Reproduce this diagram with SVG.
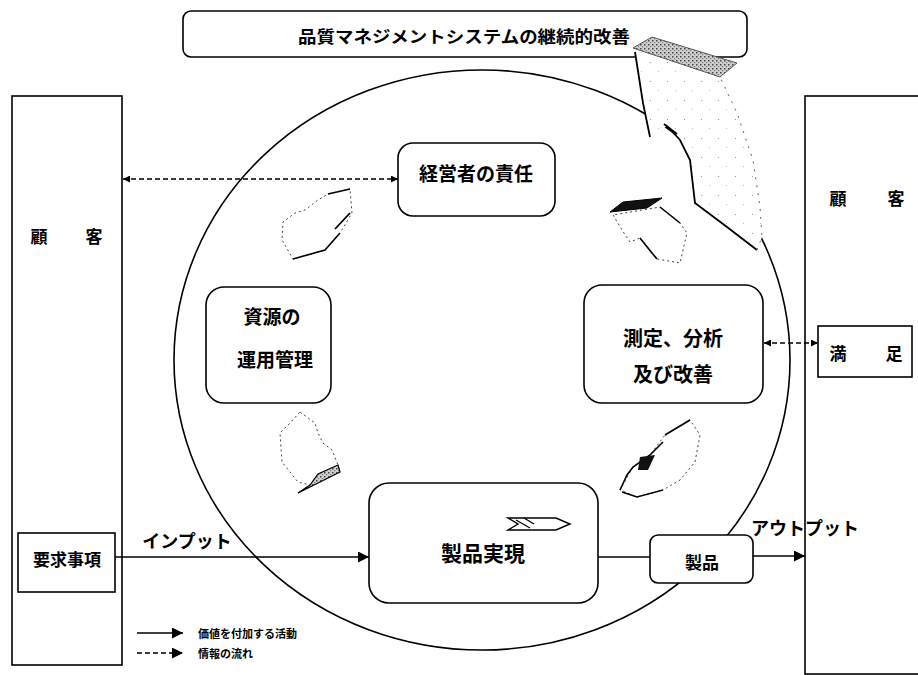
<svg xmlns="http://www.w3.org/2000/svg" width="918" height="675" viewBox="0 0 918 675">
<style>
  .box { fill: #fff; stroke: #000; stroke-width: 1.6; }
  .lbl { font-family: "Noto Sans CJK JP", "Noto Sans", sans-serif; font-weight: bold; fill: #000; text-anchor: middle; dominant-baseline: central; }
  .line { stroke: #000; stroke-width: 1.6; fill: none; }
  .dash { stroke: #000; stroke-width: 1.4; fill: none; stroke-dasharray: 5 3; }
  .faint { stroke: #444; stroke-width: 1; fill: #fff; stroke-dasharray: 2 3; }
  .dark { stroke: #000; stroke-width: 1.8; fill: none; }
</style>
<defs>
  <marker id="arr" viewBox="0 0 10 10" refX="10" refY="5" markerWidth="7" markerHeight="7" markerUnits="userSpaceOnUse" orient="auto-start-reverse">
    <path d="M0,0 L10,5 L0,10 Z" fill="#000"/>
  </marker>
  <marker id="arrL" viewBox="0 0 10 10" refX="10" refY="5" markerWidth="12" markerHeight="11" markerUnits="userSpaceOnUse" orient="auto-start-reverse">
    <path d="M0,0 L10,5 L0,10 Z" fill="#000"/>
  </marker>
  <pattern id="stip" width="4" height="4" patternUnits="userSpaceOnUse">
    <rect width="4" height="4" fill="#cfcfcf"/>
    <rect x="0" y="0" width="1.5" height="1.5" fill="#444"/>
    <rect x="2" y="2" width="1.2" height="1.2" fill="#777"/>
  </pattern>
  <pattern id="sparse" width="17" height="19" patternUnits="userSpaceOnUse">
    <rect width="17" height="19" fill="#fff"/>
    <rect x="4" y="5" width="1" height="1" fill="#999"/>
    <rect x="12" y="14" width="1" height="1" fill="#bbb"/>
  </pattern>
</defs>

<rect width="918" height="675" fill="#fff"/>

<!-- main circle -->
<g id="cycle-circle">
  <ellipse cx="482" cy="360" rx="308" ry="290" fill="none" stroke="#000" stroke-width="1.6"/>
</g>

<!-- customer panels -->
<g id="customer-left">
  <rect x="12" y="96" width="110" height="569" fill="none" stroke="#000" stroke-width="1.6"/>
  <text class="lbl" x="39" y="235" font-size="17">顧</text>
  <text class="lbl" x="94" y="235" font-size="17">客</text>
</g>
<g id="customer-right">
  <rect x="805" y="96" width="130" height="578" fill="none" stroke="#000" stroke-width="1.6"/>
  <text class="lbl" x="838" y="197" font-size="17">顧</text>
  <text class="lbl" x="896" y="197" font-size="17">客</text>
</g>

<!-- title -->
<g id="title">
  <rect x="183" y="11" width="564" height="46" rx="8" class="box"/>
  <text class="lbl" x="464" y="36" font-size="16.5" textLength="332" lengthAdjust="spacingAndGlyphs">品質マネジメントシステムの継続的改善</text>
</g>

<!-- continuous improvement arrow -->
<g id="improvement-arrow">
  <path d="M635,52 L643,103 L650,137 L667,126 L680,140 L690,160 L695,203 L727,227 L757,250 L762,237 L760,207 L753,160 L737,113 L720,77 L737,63 L652,37 L633,48 Z" fill="url(#sparse)" stroke="none"/>
  <path d="M635,52 L643,103 L650,137" class="dark" stroke-width="1.4"/>
  <path d="M667,126 L680,140 L690,160 L695,203 L727,227 L757,250" class="dark" stroke-width="1.4"/>
  <path d="M664,124 L677,134" class="dark" stroke-width="1.6"/>
  <path d="M757,250 L762,237 L760,207 L753,160 L737,113 L720,77" fill="none" stroke="#666" stroke-width="1" stroke-dasharray="2 6"/>
  <path d="M633,48 L652,37 L737,63 L720,77 Z" fill="url(#stip)" stroke="#333" stroke-width="0.8"/>
</g>

<!-- cycle arrows -->
<g id="cycle-arrow-1">
  <path d="M350,189 L328,194 L318,200 L305,210 L295,213 L283,222 L282,240 L293,259 L325,250 L340,233 L352,213 Z" class="faint"/>
  <path d="M328,194 L350,189" class="line" stroke-width="1.2"/>
  <path d="M335,229 L350,213" class="dark" stroke-width="2.4"/>
  <path d="M293,259 L325,250 L340,233" class="line" stroke-width="1.2"/>
</g>
<g id="cycle-arrow-2">
  <path d="M613,215 L622,230 L630,242 L640,238 L652,253 L657,259 L680,263 L687,233 L680,223 L660,207 Z" class="faint"/>
  <path d="M610,212 L623,202 L662,198 L647,208 Z" fill="#111" stroke="#000" stroke-width="1"/>
  <path d="M640,238 L652,253 L657,259" class="line" stroke-width="1.1"/>
  <path d="M660,207 L680,223" class="line" stroke-width="1"/>
</g>
<g id="cycle-arrow-3">
  <path d="M690,420 L665,435 L650,455 L633,467 L620,490 L637,497 L663,490 L680,480 L695,462 L700,435 Z" class="faint"/>
  <path d="M665,435 L690,420" class="line" stroke-width="1.2"/>
  <path d="M663,442 L650,455 L633,467 L627,475 L620,490" class="line" stroke-width="1.1"/>
  <path d="M640,457 L655,455 L648,470 L638,470 Z" fill="#111"/>
  <path d="M622,492 L637,497 L663,490" class="line" stroke-width="1"/>
</g>
<g id="cycle-arrow-4">
  <path d="M300,412 L315,423 L318,433 L323,443 L332,450 L338,465 L340,472 L298,493 L310,485 L298,482 L282,462 L280,433 L290,423 Z" class="faint"/>
  <path d="M298,493 L340,472 L338,465 L318,474 L310,485 Z" fill="url(#stip)" stroke="#000" stroke-width="1.2"/>
</g>

<!-- process nodes -->
<g id="node-management">
  <rect x="398" y="143" width="157" height="73" rx="15" class="box"/>
  <text class="lbl" x="476" y="172" font-size="19">経営者の責任</text>
</g>
<g id="node-resources">
  <rect x="206" y="287" width="125" height="116" rx="18" class="box"/>
  <text class="lbl" x="272" y="315" font-size="19">資源の</text>
  <text class="lbl" x="275" y="358" font-size="19">運用管理</text>
</g>
<g id="node-measurement">
  <rect x="584" y="285" width="179" height="118" rx="18" class="box"/>
  <text class="lbl" x="673" y="337" font-size="20">測定、分析</text>
  <text class="lbl" x="673" y="373" font-size="20">及び改善</text>
</g>
<g id="node-realization">
  <rect x="369" y="483" width="229" height="120" rx="20" class="box"/>
  <text class="lbl" x="483" y="552" font-size="21">製品実現</text>
  <path d="M508,518 L556,518 L570,524 L556,530 L508,530 L518,524 Z" fill="#fff" stroke="#000" stroke-width="1.4"/>
  <path d="M516,520 L530,528 M524,518 L534,524" stroke="#000" stroke-width="1.2" fill="none"/>
</g>
<g id="node-product">
  <rect x="650" y="535" width="103" height="48" rx="8" class="box"/>
  <text class="lbl" x="702" y="561" font-size="17">製品</text>
</g>
<g id="node-requirements">
  <rect x="18" y="533" width="97" height="59" class="box"/>
  <text class="lbl" x="67" y="558" font-size="17">要求事項</text>
</g>
<g id="node-satisfaction">
  <rect x="818" y="326" width="94" height="51" class="box"/>
  <text class="lbl" x="838" y="352" font-size="17">満</text>
  <text class="lbl" x="894" y="352" font-size="17">足</text>
</g>

<!-- connectors -->
<g id="connectors">
  <line x1="123" y1="179" x2="398" y2="179" class="dash" marker-start="url(#arr)" marker-end="url(#arr)"/>
  <line x1="764" y1="343" x2="818" y2="343" class="dash" stroke-dasharray="3 3" marker-start="url(#arr)" marker-end="url(#arr)"/>
  <line x1="115" y1="557" x2="369" y2="557" class="line" marker-end="url(#arrL)"/>
  <line x1="598" y1="557" x2="650" y2="557" class="line"/>
  <line x1="753" y1="556" x2="805" y2="556" class="line" marker-end="url(#arrL)"/>
  <text class="lbl" x="187" y="540" font-size="18" font-weight="normal">インプット</text>
  <text class="lbl" x="805" y="527" font-size="18" font-weight="normal">アウトプット</text>
</g>

<!-- legend -->
<g id="legend">
  <line x1="137" y1="633" x2="183" y2="633" class="line" marker-end="url(#arrL)"/>
  <text class="lbl" x="198" y="633" font-size="11" style="text-anchor:start">価値を付加する活動</text>
  <line x1="137" y1="653" x2="183" y2="653" class="dash" stroke-dasharray="4 2.5" marker-end="url(#arrL)"/>
  <text class="lbl" x="198" y="653" font-size="11" style="text-anchor:start">情報の流れ</text>
</g>
</svg>
